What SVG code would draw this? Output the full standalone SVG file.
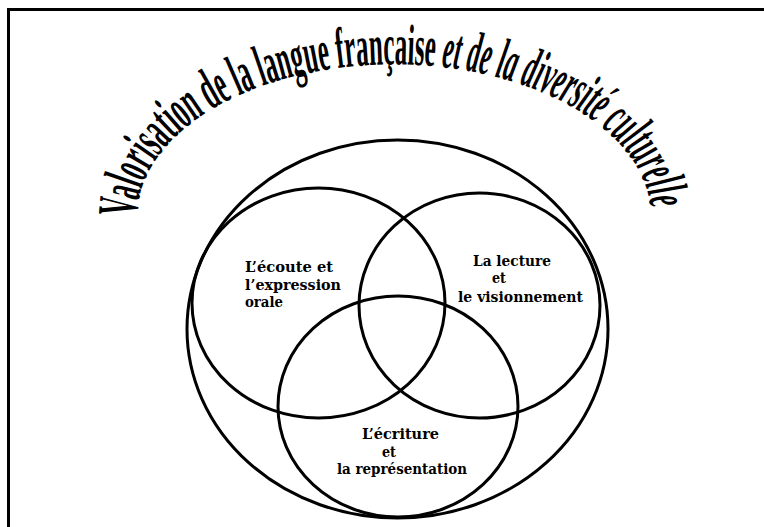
<svg xmlns="http://www.w3.org/2000/svg" width="764" height="527" viewBox="0 0 764 527">
<style>
.ring{fill:none;stroke:#000;stroke-width:3}
.lbl{font-family:"DejaVu Serif","Liberation Serif",serif;font-weight:bold;font-size:14px;fill:#000}
.arch{font-family:"Liberation Serif","Times New Roman",serif;font-size:58px;font-weight:bold;fill:#000}
</style>
<defs>
<path id="archPath" d="M 137 217 A 256 152 0 0 1 651 217"/>
</defs>
<rect width="764" height="527" fill="#fff"/>
<path d="M8.5 527 V9.5 H764" fill="none" stroke="#000" stroke-width="3"/>
<g id="title">
<text class="arch"><textPath href="#archPath" textLength="645" lengthAdjust="spacingAndGlyphs">Valorisation de la langue française <tspan font-style="italic">et de la diversité culturelle</tspan></textPath></text>
</g>
<g id="outer"><ellipse class="ring" cx="397.5" cy="329" rx="210.5" ry="189"/></g>
<g id="ecoute">
<ellipse class="ring" cx="318.5" cy="303" rx="126.5" ry="115"/>
<text class="lbl" x="245" y="272" textLength="88" lengthAdjust="spacingAndGlyphs">L’écoute et</text>
<text class="lbl" x="245" y="290" textLength="96" lengthAdjust="spacingAndGlyphs">l’expression</text>
<text class="lbl" x="245" y="307" textLength="38" lengthAdjust="spacingAndGlyphs">orale</text>
</g>
<g id="lecture">
<ellipse class="ring" cx="479.5" cy="305.5" rx="120.5" ry="112.5"/>
<text class="lbl" x="473" y="266" textLength="78" lengthAdjust="spacingAndGlyphs">La lecture</text>
<text class="lbl" x="492" y="283" textLength="14" lengthAdjust="spacingAndGlyphs">et</text>
<text class="lbl" x="458" y="302" textLength="125" lengthAdjust="spacingAndGlyphs">le visionnement</text>
</g>
<g id="ecriture">
<ellipse class="ring" cx="398" cy="406.5" rx="120" ry="110.5"/>
<text class="lbl" x="362" y="439" textLength="77" lengthAdjust="spacingAndGlyphs">L’écriture</text>
<text class="lbl" x="382" y="457" textLength="14" lengthAdjust="spacingAndGlyphs">et</text>
<text class="lbl" x="337" y="474" textLength="130" lengthAdjust="spacingAndGlyphs">la représentation</text>
</g>
</svg>
